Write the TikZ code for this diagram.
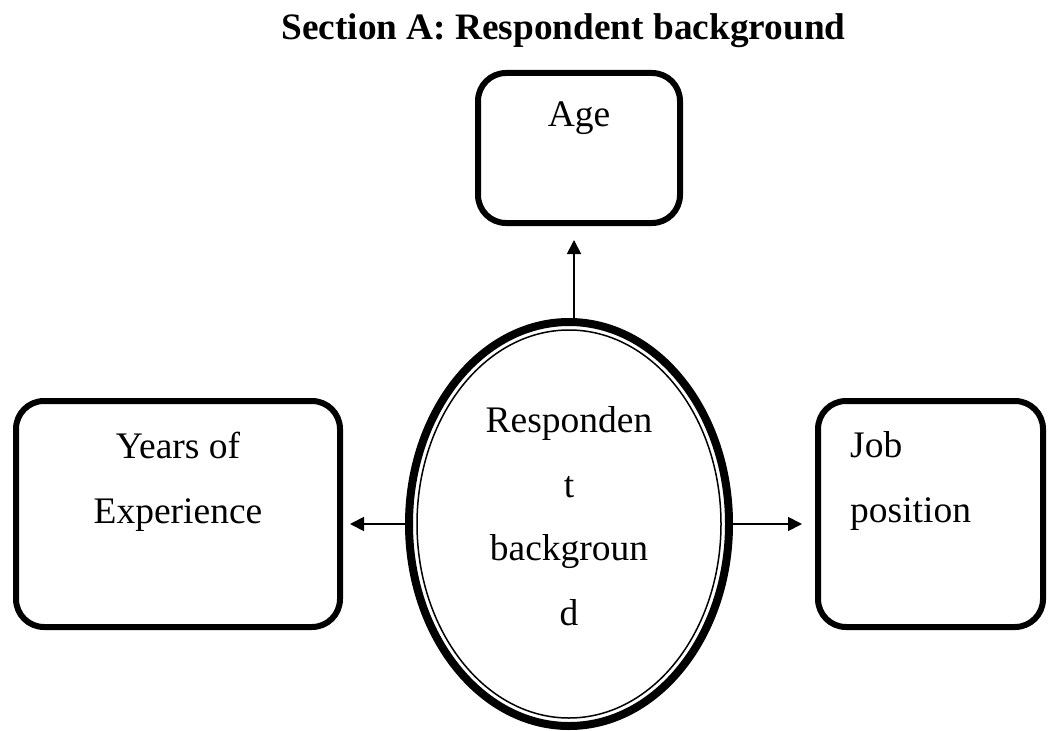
\documentclass[tikz,border=0pt]{standalone}
\usepackage{fontspec}
\setmainfont{Liberation Serif}
\usetikzlibrary{arrows.meta,shapes.geometric}
\begin{document}
\begin{tikzpicture}[x=1pt,y=-1pt,
  box/.style={draw,line width=6pt,rounded corners=28pt,inner sep=0pt},
  txt/.style={anchor=base,inner sep=0pt,font=\fontsize{37.5}{44}\selectfont},
  arr/.style={line width=1.8pt,-{Triangle[length=14pt,width=14pt]}}]
\useasboundingbox (0,0) rectangle (1048,730);
\node[anchor=base,inner sep=0pt,font=\fontsize{37.3}{44}\selectfont\bfseries] (title) at (563.5,40) {Section A: Respondent background};
% boxes
\node[box,minimum width=202pt,minimum height=150pt] (age) at (579,148) {};
\node[box,minimum width=324pt,minimum height=226pt] (yrs) at (178,514) {};
\node[box,minimum width=225pt,minimum height=226pt] (job) at (930.5,514) {};
% ellipse
\node[draw,ellipse,line width=8pt,minimum width=320pt,minimum height=404pt,inner sep=0pt] (rb) at (569,524) {};
\node[draw,ellipse,line width=1.5pt,minimum width=304pt,minimum height=388pt,inner sep=0pt] (rbin) at (569,524) {};
% texts
\node[txt] (tage) at (579,127) {Age};
\node[txt] (tyrs1) at (178,458) {Years of};
\node[txt] (tyrs2) at (178,523) {Experience};
\node[txt,anchor=base west] (tjob1) at (850,457) {Job};
\node[txt,anchor=base west] (tjob2) at (850,522) {position};
\node[txt] (tr1) at (569,432) {Responden};
\node[txt] (tr2) at (569,497) {t};
\node[txt] (tr3) at (569,560) {backgroun};
\node[txt] (tr4) at (569,625) {d};
% arrows
\coordinate (upstart) at (574,320);
\draw[arr,shorten >=14pt] (upstart) -- (upstart |- age.south);
\draw[arr,shorten >=7pt] (rb.west) -- (rb.west -| yrs.east);
\draw[arr,shorten >=13pt] (rb.east) -- (rb.east -| job.west);
\end{tikzpicture}
\end{document}
